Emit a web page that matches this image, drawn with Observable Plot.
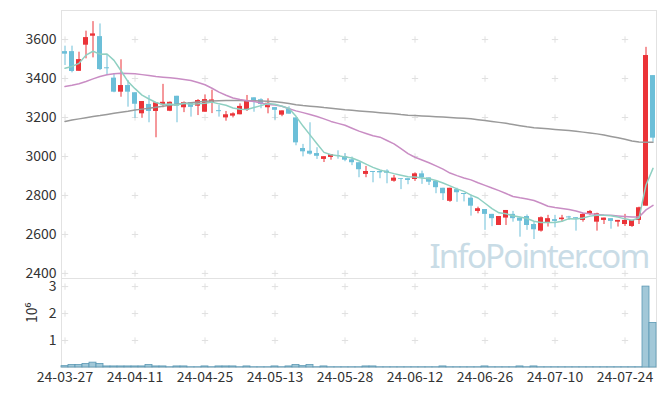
<!DOCTYPE html>
<html><head><meta charset="utf-8">
<script src="https://cdn.jsdelivr.net/npm/d3@7"></script>
<script src="https://cdn.jsdelivr.net/npm/@observablehq/plot@0.6"></script>
<style>
body{margin:0;background:#fff;}
#chart svg{display:block;}
</style></head><body><div id="chart"></div>
<script>
const dates = ["2024-03-27","2024-03-28","2024-03-29","2024-04-01","2024-04-02","2024-04-03","2024-04-04","2024-04-05","2024-04-08","2024-04-09",
"2024-04-11","2024-04-12","2024-04-15","2024-04-16","2024-04-17","2024-04-18","2024-04-19","2024-04-22","2024-04-23","2024-04-24",
"2024-04-25","2024-04-26","2024-04-29","2024-04-30","2024-05-02","2024-05-03","2024-05-07","2024-05-08","2024-05-09","2024-05-10",
"2024-05-13","2024-05-14","2024-05-16","2024-05-17","2024-05-20","2024-05-21","2024-05-22","2024-05-23","2024-05-24","2024-05-27",
"2024-05-28","2024-05-29","2024-05-30","2024-05-31","2024-06-03","2024-06-04","2024-06-05","2024-06-07","2024-06-10","2024-06-11",
"2024-06-12","2024-06-13","2024-06-14","2024-06-17","2024-06-18","2024-06-19","2024-06-20","2024-06-21","2024-06-24","2024-06-25",
"2024-06-26","2024-06-27","2024-06-28","2024-07-01","2024-07-02","2024-07-03","2024-07-04","2024-07-05","2024-07-08","2024-07-09",
"2024-07-10","2024-07-11","2024-07-12","2024-07-15","2024-07-16","2024-07-17","2024-07-18","2024-07-19","2024-07-22","2024-07-23",
"2024-07-24","2024-07-25","2024-07-26","2024-07-29","2024-07-30"];

const open = [3538,3538,3437,3571,3617,3615,3455,3402,3330,3364,
3327,3219,3267,3231,3265,3232,3309,3250,3276,3258,
3227,3275,3235,3198,3207,3214,3236,3301,3291,3250,
3251,3212,3243,3198,3041,3027,3015,2985,2995,3005,
2999,2983,2968,2908,2923,2923,2925,2873,2886,2886,
2882,2911,2890,2872,2837,2770,2830,2810,2786,2718,
2728,2703,2646,2684,2703,2684,2692,2651,2617,2658,
2676,2676,2690,2686,2672,2703,2663,2672,2681,2663,
2651,2641,2672,2745,3415];
const high = [3566,3566,3535,3643,3692,3680,3522,3424,3496,3390,
3327,3282,3313,3275,3370,3280,3309,3280,3276,3292,
3316,3340,3262,3231,3224,3270,3313,3301,3296,3296,
3251,3234,3255,3198,3062,3173,3045,2999,3010,3029,
3015,2997,2968,2949,2923,2923,2932,2903,2886,2886,
2916,2925,2890,2872,2837,2837,2837,2810,2803,2740,
2728,2703,2692,2723,2718,2684,2700,2663,2690,2698,
2698,2698,2693,2686,2708,2723,2709,2684,2681,2672,
2703,2672,2740,3560,3415];
const low = [3467,3429,3437,3501,3506,3441,3415,3327,3304,3253,
3195,3196,3173,3096,3250,3230,3173,3225,3202,3210,
3227,3220,3202,3181,3198,3214,3231,3227,3245,3219,
3186,3204,3217,3055,2998,3007,2985,2969,2981,2986,
2973,2953,2891,2891,2865,2886,2860,2868,2830,2855,
2872,2857,2851,2809,2774,2765,2765,2767,2694,2706,
2621,2640,2646,2646,2663,2586,2621,2574,2612,2638,
2634,2663,2672,2617,2663,2698,2617,2651,2627,2638,
2641,2636,2651,2745,3073];
const close = [3525,3436,3497,3610,3629,3446,3450,3330,3364,3330,
3268,3282,3231,3275,3278,3278,3258,3276,3252,3287,
3292,3290,3230,3214,3219,3257,3284,3279,3267,3273,
3237,3234,3217,3070,3024,3012,3001,2999,3010,3000,
2981,2968,2932,2923,2918,2916,2914,2889,2882,2877,
2911,2890,2868,2840,2809,2837,2814,2805,2745,2732,
2703,2681,2692,2723,2681,2668,2646,2624,2686,2681,
2667,2684,2685,2680,2703,2718,2706,2684,2667,2672,
2672,2672,2737,3518,3094];
const volume = [50000,90000,90000,130000,180000,130000,40000,40000,40000,40000,
40000,40000,90000,40000,40000,10000,40000,40000,10000,10000,
40000,10000,40000,40000,40000,10000,40000,10000,10000,10000,
40000,10000,40000,90000,50000,90000,10000,40000,10000,10000,
10000,10000,10000,40000,40000,10000,10000,10000,10000,10000,
10000,10000,10000,10000,40000,10000,10000,10000,10000,10000,
40000,10000,10000,10000,10000,40000,10000,40000,10000,10000,
10000,10000,10000,10000,10000,10000,10000,10000,10000,10000,
10000,10000,10000,3000000,1650000];
const ma5 = [3453,3462,3478,3520,3540,3525,3526,3493,3440,3384,
3348,3315,3295,3277,3267,3269,3264,3273,3268,3270,
3273,3279,3270,3263,3249,3242,3241,3251,3261,3272,
3268,3258,3246,3206,3156,3111,3065,3021,3009,3004,
2998,2992,2978,2961,2944,2931,2921,2912,2904,2896,
2895,2890,2886,2877,2864,2849,2834,2821,2802,2787,
2760,2733,2711,2706,2696,2689,2682,2668,2661,2661,
2661,2668,2681,2679,2684,2694,2698,2698,2696,2689,
2680,2673,2684,2854,2939];
const ma20 = [3359,3365,3373,3385,3398,3410,3419,3424,3427,3426,
3424,3420,3415,3410,3407,3404,3400,3395,3390,3380,
3368,3350,3330,3314,3300,3292,3286,3282,3274,3267,
3264,3258,3245,3234,3225,3215,3205,3193,3180,3170,
3160,3145,3130,3118,3106,3099,3082,3065,3040,3015,
2996,2982,2968,2952,2935,2915,2902,2890,2880,2865,
2852,2838,2825,2810,2795,2788,2782,2774,2760,2745,
2738,2733,2728,2720,2710,2706,2703,2700,2698,2695,
2692,2689,2690,2726,2749];
const ma60 = [3180,3187,3193,3199,3205,3210,3216,3222,3227,3232,
3238,3243,3248,3253,3258,3263,3268,3272,3276,3280,
3283,3285,3286,3287,3287,3287,3286,3286,3285,3283,
3281,3277,3272,3266,3261,3258,3255,3251,3248,3244,
3240,3237,3234,3231,3228,3225,3222,3219,3215,3212,
3210,3208,3206,3204,3202,3200,3198,3196,3193,3189,
3185,3180,3175,3170,3164,3158,3152,3147,3145,3142,
3139,3136,3133,3129,3125,3121,3116,3110,3103,3096,
3088,3080,3074,3073,3073];
const priceTicks = [2400,2600,2800,3000,3200,3400,3600];
const volumeTicks = [1000000,2000000,3000000];
const dateTicks = dates.filter((d, i) => i % 10 === 0);

const rows = dates.map((d, i) => ({date: d, open: open[i], high: high[i], low: low[i], close: close[i],
  volume: volume[i], ma5: ma5[i], ma20: ma20[i], ma60: ma60[i], up: close[i] >= open[i]}));
const upRows = rows.filter(r => r.up), downRows = rows.filter(r => !r.up);

const RED = "#eb3338", BLUE = "#6cbfd8";
const font = "'Noto Sans CJK KR','Noto Sans',sans-serif";
const priceGrid = dateTicks.flatMap(d => priceTicks.map(p => ({date: d, v: p})));
const volGrid = dateTicks.flatMap(d => volumeTicks.map(p => ({date: d, v: p})));

const main = Plot.plot({
  width: 665, height: 278, marginTop: 10, marginBottom: 0, marginLeft: 61, marginRight: 9,
  style: {fontFamily: font, fontSize: "14px", color: "#333", background: "#fff", overflow: "visible"},
  x: {type: "band", domain: dates, paddingInner: 0.3, paddingOuter: 0.15, axis: null},
  y: {domain: [2374, 3749], ticks: priceTicks, tickFormat: d => String(d), tickSize: 0, tickPadding: 5, label: null},
  marks: [
    Plot.text(["InfoPointer.com"], {frameAnchor: "bottom-right", dx: -8, dy: -11, fontSize: 33,
      fill: "#c9dce6", fontFamily: "'Noto Sans',sans-serif", textAnchor: "end", lineAnchor: "bottom"}),
    Plot.dot(priceGrid, {x: "date", y: "v", symbol: "plus", r: 2.2, stroke: "#e0e0e0", strokeWidth: 1}),
    Plot.frame({stroke: "#e2e2e2"}),
    Plot.ruleX(upRows, {x: "date", y1: "low", y2: "high", stroke: RED, strokeWidth: 1}),
    Plot.ruleX(downRows, {x: "date", y1: "low", y2: "high", stroke: BLUE, strokeWidth: 1}),
    Plot.barY(upRows, {x: "date", y1: "open", y2: "close", fill: RED}),
    Plot.barY(downRows, {x: "date", y1: "open", y2: "close", fill: BLUE}),
    Plot.lineY(rows, {x: "date", y: "ma60", stroke: "#9a9a9a", strokeWidth: 1.5}),
    Plot.lineY(rows, {x: "date", y: "ma20", stroke: "#c98dc4", strokeWidth: 1.5}),
    Plot.lineY(rows, {x: "date", y: "ma5", stroke: "#8fd0c2", strokeWidth: 1.5})
  ]
});
main.querySelectorAll("text").forEach(t => {
  if (t.textContent === "InfoPointer.com") t.setAttribute("letter-spacing", "-1.8");
});

const vol = Plot.plot({
  width: 665, height: 118, marginTop: 0, marginBottom: 29, marginLeft: 61, marginRight: 9,
  style: {fontFamily: font, fontSize: "14px", color: "#333", background: "transparent", overflow: "visible"},
  x: {type: "band", domain: dates, padding: 0, ticks: dateTicks, tickFormat: d => d.slice(2),
      tickSize: 0, tickPadding: 5, label: null},
  y: {domain: [0, 3300000], ticks: volumeTicks, tickFormat: d => d / 1e6, tickSize: 0, tickPadding: 5, label: null},
  marks: [
    Plot.dot(volGrid, {x: "date", y: "v", symbol: "plus", r: 2.2, stroke: "#e0e0e0", strokeWidth: 1}),
    Plot.frame({stroke: "#e2e2e2"}),
    Plot.barY(rows, {x: "date", y: "volume", fill: "#a2c8d8", stroke: "#5b98b4", strokeWidth: 0.8}),
    Plot.text(["10⁶"], {frameAnchor: "left", dx: -29, rotate: -90, fontSize: 14, fill: "#333"})
  ]
});

const c = document.getElementById("chart");
c.style.position = "relative";
c.appendChild(main);
main.style.position = "relative";
main.style.zIndex = "1";
c.appendChild(vol);
</script></body></html>
